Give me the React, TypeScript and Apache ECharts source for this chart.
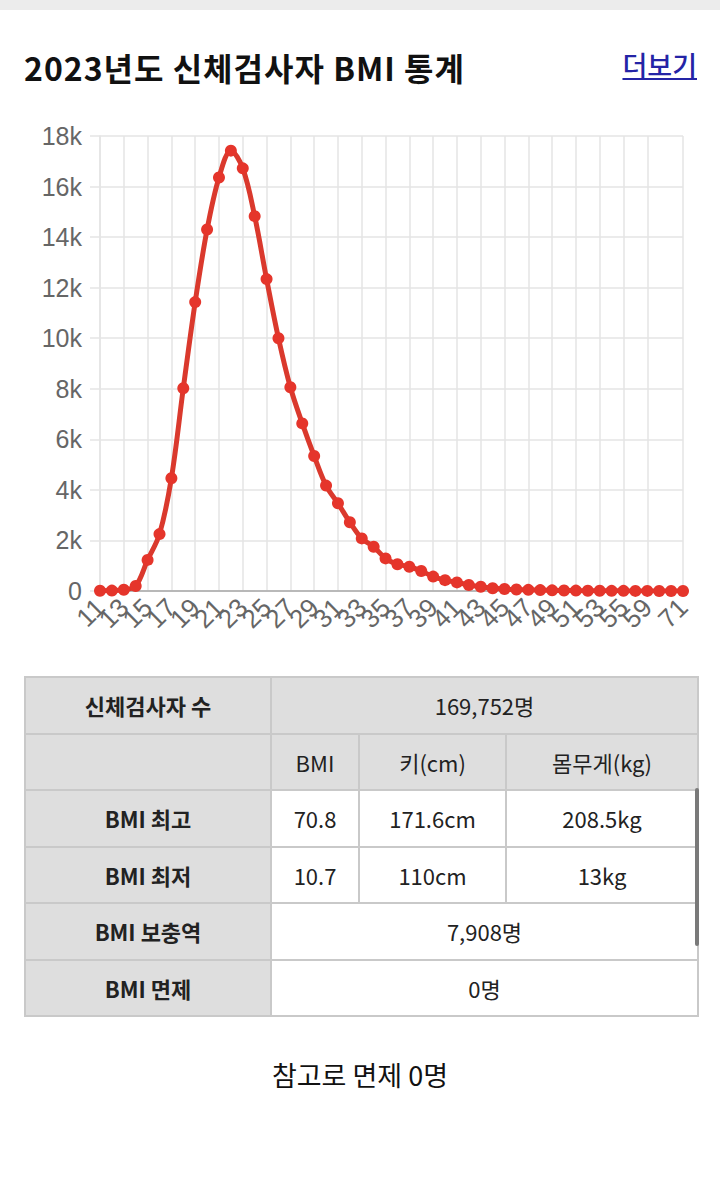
import React, { useEffect, useRef } from "react";
import * as echarts from "echarts";

const categories: string[] = [
  "11", "12", "13", "14", "15", "16", "17", "18", "19", "20",
  "21", "22", "23", "24", "25", "26", "27", "28", "29", "30",
  "31", "32", "33", "34", "35", "36", "37", "38", "39", "40",
  "41", "42", "43", "44", "45", "46", "47", "48", "49", "50",
  "51", "52", "53", "54", "55", "57", "59", "62", "65", "71",
];

const counts: number[] = [
  10, 15, 50, 200, 1230, 2250, 4460, 8020, 11430, 14300,
  16360, 17420, 16720, 14830, 12340, 10000, 8060, 6630, 5340, 4170,
  3470, 2720, 2080, 1750, 1290, 1060, 960, 790, 570, 430,
  340, 240, 170, 110, 80, 60, 45, 35, 25, 20,
  15, 10, 8, 6, 5, 4, 3, 2, 1, 1,
];

const shownLabelIdx: number[] = [
  0, 2, 4, 6, 8, 10, 12, 14, 16, 18, 20, 22, 24, 26, 28, 30, 32, 34, 36, 38, 40, 42, 44, 46, 49,
];

const tableRows: { label: string; cells: string[]; span?: boolean; head?: boolean }[] = [
  { label: "신체검사자 수", cells: ["169,752명"], span: true, head: true },
  { label: "", cells: ["BMI", "키(cm)", "몸무게(kg)"], head: true },
  { label: "BMI 최고", cells: ["70.8", "171.6cm", "208.5kg"] },
  { label: "BMI 최저", cells: ["10.7", "110cm", "13kg"] },
  { label: "BMI 보충역", cells: ["7,908명"], span: true },
  { label: "BMI 면제", cells: ["0명"], span: true },
];

const KR = '"Noto Sans CJK KR", "Noto Sans", sans-serif';
const LAT = '"Liberation Sans", Arial, sans-serif';

function Chart() {
  const ref = useRef<HTMLDivElement>(null);
  useEffect(() => {
    if (!ref.current) return;
    const chart = echarts.init(ref.current, null, { renderer: "svg" });
    const showIdx = (i: number) => shownLabelIdx.indexOf(i) >= 0;
    chart.setOption({
      animation: false,
      grid: { left: 100, right: 37, top: 36, bottom: 69, containLabel: false },
      xAxis: {
        type: "category",
        boundaryGap: false,
        data: categories,
        axisLine: { show: true, lineStyle: { color: "#a8a8a8", width: 1.5 } },
        axisTick: { show: false },
        axisLabel: {
          interval: 0,
          formatter: (v: string, i: number) => (showIdx(i) ? v : ""),
          hideOverlap: false,
          rotate: 45,
          fontSize: 26,
          color: "#666",
          margin: 12,
          fontFamily: LAT,
        },
        splitLine: {
          show: true,
          interval: (i: number) => showIdx(i),
          lineStyle: { color: "#e4e4e4", width: 1.5 },
        },
      },
      yAxis: {
        type: "value",
        min: 0,
        max: 18000,
        interval: 2000,
        axisLine: { show: true, lineStyle: { color: "#e4e4e4", width: 1.5 } },
        axisTick: { show: true, length: 10, lineStyle: { color: "#e4e4e4", width: 1.5 } },
        axisLabel: {
          formatter: (v: number) => (v === 0 ? "0" : v / 1000 + "k"),
          fontSize: 25,
          color: "#666",
          margin: 18,
          fontFamily: LAT,
        },
        splitLine: { show: true, lineStyle: { color: "#e4e4e4", width: 1.5 } },
      },
      series: [
        {
          type: "line",
          data: counts,
          smooth: 0.35,
          symbol: "circle",
          symbolSize: 12,
          showSymbol: true,
          showAllSymbol: true,
          lineStyle: { color: "#da392d", width: 5 },
          itemStyle: { color: "#e5352b" },
        },
      ],
    });
    return () => chart.dispose();
  }, []);
  return <div ref={ref} style={{ position: "absolute", left: 0, top: 100, width: 720, height: 560 }} />;
}

export default function App() {
  const border = "2px solid #c9c9c9";
  const colW = [246, 88, 147, 192];
  return (
    <div
      style={{
        position: "absolute",
        left: 0,
        top: 0,
        width: 720,
        height: 1191,
        background: "#fff",
        fontFamily: KR,
        overflow: "hidden",
      }}
    >
      <div style={{ position: "absolute", left: 0, top: 0, width: 720, height: 10, background: "#ececec" }} />
      <div
        style={{
          position: "absolute",
          left: 24,
          top: 46,
          fontSize: 32,
          lineHeight: "42px",
          letterSpacing: 1,
          fontWeight: 700,
          color: "#111",
          whiteSpace: "nowrap",
        }}
      >
        2023년도 신체검사자 BMI 통계
      </div>
      <div
        style={{
          position: "absolute",
          right: 23,
          top: 47,
          fontSize: 27,
          lineHeight: "36px",
          fontWeight: 500,
          color: "#2424a6",
          textDecoration: "underline",
          whiteSpace: "nowrap",
        }}
      >
        더보기
      </div>
      <Chart />
      <table
        style={{
          position: "absolute",
          left: 24,
          top: 676,
          width: 673,
          borderCollapse: "collapse",
          tableLayout: "fixed",
          fontSize: 22,
          color: "#222",
        }}
      >
        <colgroup>
          {colW.map((w, i) => (
            <col key={i} style={{ width: w }} />
          ))}
        </colgroup>
        <tbody>
          {tableRows.map((r, ri) => (
            <tr key={ri} style={{ height: 56.5 }}>
              <td
                style={{
                  border,
                  background: "#dedede",
                  textAlign: "center",
                  fontWeight: 700,
                  padding: 0,
                }}
              >
                {r.label}
              </td>
              {r.span ? (
                <td
                  colSpan={3}
                  style={{
                    border,
                    background: r.head ? "#dedede" : "#fff",
                    textAlign: "center",
                    padding: 0,
                  }}
                >
                  {r.cells[0]}
                </td>
              ) : (
                r.cells.map((c, ci) => (
                  <td
                    key={ci}
                    style={{
                      border,
                      background: r.head ? "#dedede" : "#fff",
                      textAlign: "center",
                      padding: 0,
                    }}
                  >
                    {c}
                  </td>
                ))
              )}
            </tr>
          ))}
        </tbody>
      </table>
      <div
        style={{
          position: "absolute",
          left: 695,
          top: 788,
          width: 4,
          height: 158,
          borderRadius: 2,
          background: "#7a7a7a",
        }}
      />
      <div
        style={{
          position: "absolute",
          left: 0,
          top: 1057,
          width: 720,
          textAlign: "center",
          fontSize: 27,
          lineHeight: "36px",
          color: "#111",
        }}
      >
        참고로 면제 0명
      </div>
    </div>
  );
}
